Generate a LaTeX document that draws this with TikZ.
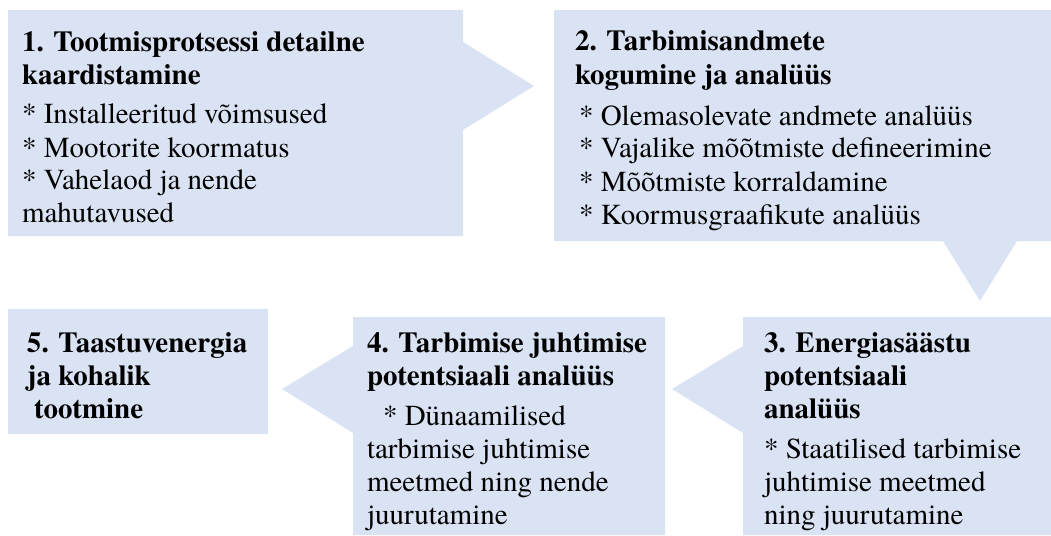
\documentclass[tikz,border=0pt]{standalone}
\usepackage{fontspec}
\setmainfont{texgyretermes}[Extension=.otf, UprightFont=*-regular, BoldFont=*-bold, ItalicFont=*-italic, BoldItalicFont=*-bolditalic]
\definecolor{boxblue}{HTML}{DAE3F3}
\newcommand\txtline[1]{\hbox{#1}}
\begin{document}
\begin{tikzpicture}[x=1pt,y=-1pt,
  panel/.style={fill=boxblue, draw=none},
  label/.style={anchor=base west, inner sep=0pt, outer sep=0pt,
    font=\rmfamily\fontsize{29}{33}\selectfont}]
\useasboundingbox (0,0) rectangle (1051,535);

% callout shapes
\coordinate (tip1) at (534,86);
\coordinate (tip2) at (980,301);
\coordinate (tip3) at (672,389);
\coordinate (tip4) at (282,389);
\path[panel] (8,10) -- (463,10) -- (463,42) -- (tip1) -- (463,130) -- (463,236) -- (8,236) -- cycle;
\path[panel] (554,10) -- (1051,10) -- (1051,241) -- (1017,241) -- (tip2) -- (943,241) -- (554,241) -- cycle;
\path[panel] (743,317) -- (1051,317) -- (1051,535) -- (743,535) -- (743,433) -- (tip3) -- (743,346) -- cycle;
\path[panel] (353,317) -- (665,317) -- (665,535) -- (353,535) -- (353,433) -- (tip4) -- (353,346) -- cycle;
\path[panel] (8,309) rectangle (268,434);

% texts
\node[label] (t1) at (22,52) {\vtop{%
  \txtline{\bfseries 1. Tootmisprotsessi detailne}
  \txtline{\bfseries kaardistamine}
  \vskip6pt
  \txtline{* Installeeritud võimsused}
  \txtline{* Mootorite koormatus}
  \txtline{* Vahelaod ja nende}
  \txtline{mahutavused}}};

\node[label] (t2) at (575,51) {\vtop{%
  \txtline{\bfseries 2. Tarbimisandmete}
  \txtline{\bfseries kogumine ja analüüs}
  \vskip8pt
  \txtline{\hspace{4pt}* Olemasolevate andmete analüüs}
  \txtline{\hspace{4pt}* Vajalike mõõtmiste defineerimine}
  \txtline{\hspace{4pt}* Mõõtmiste korraldamine}
  \txtline{\hspace{4pt}* Koormusgraafikute analüüs}}};

\node[label] (t3) at (764,352) {\vtop{%
  \txtline{\bfseries 3. Energiasäästu}
  \txtline{\bfseries potentsiaali}
  \txtline{\bfseries analüüs}
  \vskip7pt
  \txtline{* Staatilised tarbimise}
  \txtline{juhtimise meetmed}
  \txtline{ning juurutamine}}};

\node[label] (t4) at (367,352) {\vtop{%
  \txtline{\bfseries 4. Tarbimise juhtimise}
  \txtline{\bfseries potentsiaali analüüs}
  \vskip7pt
  \txtline{\hspace{16pt}* Dünaamilised}
  \txtline{tarbimise juhtimise}
  \txtline{meetmed ning nende}
  \txtline{juurutamine}}};

\node[label] (t5) at (27,352) {\vtop{%
  \txtline{\bfseries 5. Taastuvenergia}
  \txtline{\bfseries ja kohalik}
  \txtline{\bfseries\hspace{7pt}tootmine}}};
\end{tikzpicture}
\end{document}
